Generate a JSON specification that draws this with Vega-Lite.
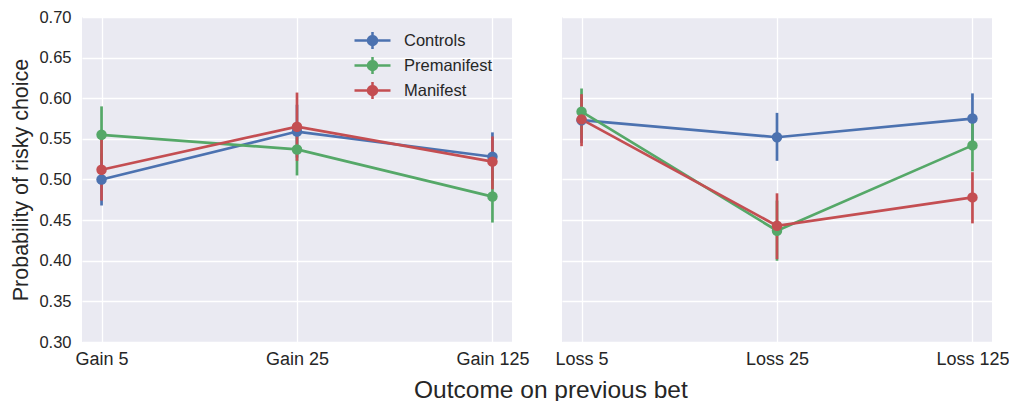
{
  "$schema": "https://vega.github.io/schema/vega-lite/v6.json",
  "background": "white",
  "padding": {"left": 10, "top": 9, "right": 0, "bottom": 0},
  "config": {
    "font": "Liberation Sans",
    "view": {"fill": "#EAEAF2", "stroke": null},
    "axis": {
      "grid": true, "gridColor": "white", "gridWidth": 1.3, "domain": false, "ticks": false,
      "labelColor": "#262626", "labelFont": "Liberation Sans", "titleFont": "Liberation Sans",
      "titleColor": "#262626", "titleFontWeight": "normal"
    }
  },
  "title": {"text": "Outcome on previous bet", "orient": "bottom", "anchor": "middle", "fontSize": 24.5, "fontWeight": "normal", "color": "#262626", "font": "Liberation Sans", "offset": 11, "dx": 41},
  "data": {"values": [
    {"panel": "Gain", "outcome": "Gain 5", "group": "Controls", "mean": 0.500, "lo": 0.468, "hi": 0.532},
    {"panel": "Gain", "outcome": "Gain 25", "group": "Controls", "mean": 0.559, "lo": 0.527, "hi": 0.592},
    {"panel": "Gain", "outcome": "Gain 125", "group": "Controls", "mean": 0.528, "lo": 0.498, "hi": 0.558},
    {"panel": "Gain", "outcome": "Gain 5", "group": "Premanifest", "mean": 0.555, "lo": 0.521, "hi": 0.590},
    {"panel": "Gain", "outcome": "Gain 25", "group": "Premanifest", "mean": 0.537, "lo": 0.505, "hi": 0.570},
    {"panel": "Gain", "outcome": "Gain 125", "group": "Premanifest", "mean": 0.479, "lo": 0.447, "hi": 0.511},
    {"panel": "Gain", "outcome": "Gain 5", "group": "Manifest", "mean": 0.512, "lo": 0.474, "hi": 0.550},
    {"panel": "Gain", "outcome": "Gain 25", "group": "Manifest", "mean": 0.565, "lo": 0.523, "hi": 0.607},
    {"panel": "Gain", "outcome": "Gain 125", "group": "Manifest", "mean": 0.522, "lo": 0.488, "hi": 0.553},
    {"panel": "Loss", "outcome": "Loss 5", "group": "Controls", "mean": 0.573, "lo": 0.545, "hi": 0.601},
    {"panel": "Loss", "outcome": "Loss 25", "group": "Controls", "mean": 0.552, "lo": 0.523, "hi": 0.582},
    {"panel": "Loss", "outcome": "Loss 125", "group": "Controls", "mean": 0.575, "lo": 0.545, "hi": 0.606},
    {"panel": "Loss", "outcome": "Loss 5", "group": "Premanifest", "mean": 0.5835, "lo": 0.555, "hi": 0.612},
    {"panel": "Loss", "outcome": "Loss 25", "group": "Premanifest", "mean": 0.437, "lo": 0.400, "hi": 0.474},
    {"panel": "Loss", "outcome": "Loss 125", "group": "Premanifest", "mean": 0.542, "lo": 0.510, "hi": 0.575},
    {"panel": "Loss", "outcome": "Loss 5", "group": "Manifest", "mean": 0.574, "lo": 0.541, "hi": 0.605},
    {"panel": "Loss", "outcome": "Loss 25", "group": "Manifest", "mean": 0.443, "lo": 0.402, "hi": 0.483},
    {"panel": "Loss", "outcome": "Loss 125", "group": "Manifest", "mean": 0.478, "lo": 0.446, "hi": 0.509}
  ]},
  "spacing": 26,
  "resolve": {"scale": {"color": "shared"}, "legend": {"color": "independent"}},
  "hconcat": [
    {
      "width": 430, "height": 325,
      "transform": [{"filter": "datum.panel == 'Gain'"}],
      "encoding": {
        "x": {"field": "outcome", "type": "ordinal",
          "scale": {"type": "point", "padding": 0.1, "domain": ["Gain 5", "Gain 25", "Gain 125"]},
          "axis": {"title": null, "labelAngle": 0, "labelFontSize": 18, "labelPadding": 8}},
        "color": {"field": "group", "type": "nominal",
          "scale": {"domain": ["Controls", "Premanifest", "Manifest"], "range": ["#4C72B0", "#55A868", "#C44E52"]},
          "legend": {"orient": "none", "legendX": 279, "legendY": 12, "title": null, "padding": 0,
            "symbolType": "M-1.8,0L1.8,0M0,-0.85L0,0.85M0.45,0A0.45,0.45,0,1,1,-0.45,0A0.45,0.45,0,1,1,0.45,0Z",
            "symbolSize": 400, "symbolStrokeWidth": 2.5, "rowPadding": -3, "labelOffset": 20,
            "labelFontSize": 16.5, "labelColor": "#262626", "labelFont": "Liberation Sans",
            "encode": {"symbols": {"update": {"fill": {"scale": "color", "field": "value"}, "stroke": {"scale": "color", "field": "value"}, "opacity": {"value": 1}}}}}
        }
      },
      "layer": [
        {"mark": {"type": "line", "strokeWidth": 2.7},
         "encoding": {"y": {"field": "mean", "type": "quantitative",
            "scale": {"domain": [0.3, 0.7], "nice": false, "zero": false},
            "axis": {"title": "Probability of risky choice", "titleFontSize": 21.5, "labelFontSize": 16.5,
              "labelPadding": 11, "titlePadding": 6, "values": [0.3, 0.35, 0.4, 0.45, 0.5, 0.55, 0.6, 0.65, 0.7], "format": ".2f"}}}},
        {"mark": {"type": "rule", "strokeWidth": 2.7},
         "encoding": {"y": {"field": "lo", "type": "quantitative"}, "y2": {"field": "hi"}}},
        {"mark": {"type": "point", "filled": true, "size": 110, "opacity": 1},
         "encoding": {"y": {"field": "mean", "type": "quantitative"}}}
      ]
    },
    {
      "width": 430, "height": 325,
      "transform": [{"filter": "datum.panel == 'Loss'"}],
      "encoding": {
        "x": {"field": "outcome", "type": "ordinal",
          "scale": {"type": "point", "padding": 0.1, "domain": ["Loss 5", "Loss 25", "Loss 125"]},
          "axis": {"title": null, "labelAngle": 0, "labelFontSize": 18, "labelPadding": 8}},
        "color": {"field": "group", "type": "nominal", "legend": null}
      },
      "layer": [
        {"mark": {"type": "line", "strokeWidth": 2.7},
         "encoding": {"y": {"field": "mean", "type": "quantitative",
            "scale": {"domain": [0.3, 0.7], "nice": false, "zero": false},
            "axis": {"title": null, "labels": false, "labelPadding": 0, "minExtent": 0, "maxExtent": 0, "values": [0.3, 0.35, 0.4, 0.45, 0.5, 0.55, 0.6, 0.65, 0.7]}}}},
        {"mark": {"type": "rule", "strokeWidth": 2.7},
         "encoding": {"y": {"field": "lo", "type": "quantitative"}, "y2": {"field": "hi"}}},
        {"mark": {"type": "point", "filled": true, "size": 110, "opacity": 1},
         "encoding": {"y": {"field": "mean", "type": "quantitative"}}}
      ]
    }
  ]
}
